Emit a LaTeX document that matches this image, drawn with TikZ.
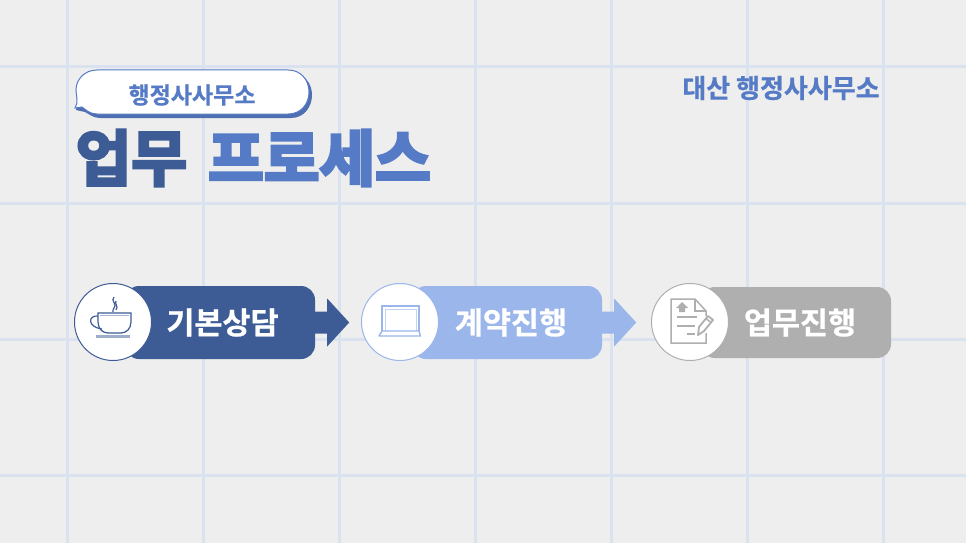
\documentclass[tikz,border=0pt]{standalone}
\usepackage{fontspec}
\usetikzlibrary{calc}
\newfontfamily\krstrong{Noto Sans CJK KR Bold}[FakeBold=0.8]
\newfontfamily\krheavy{Noto Sans CJK KR Bold}[FakeBold=5]
\definecolor{paper}{HTML}{EEEEEE}
\definecolor{gridblue}{HTML}{DAE2EF}
\definecolor{navy}{HTML}{3D5C96}
\definecolor{midblue}{HTML}{567BC6}
\definecolor{softblue}{HTML}{9BB6EA}
\definecolor{softgrey}{HTML}{AFAFAF}
\tikzset{
	gridline/.style={line width=3pt, color=gridblue},
	pill/.style={fill=#1, rounded corners=14pt, text=white, font=\krstrong\fontsize{30.5}{30}\selectfont},
	badge/.style={circle, draw=#1, line width=1pt, fill=white, minimum size=77pt, inner sep=0pt},
	heading/.style={font=\krheavy\fontsize{60.5}{60}\selectfont, inner sep=0pt}
}
\def\blockarrow[#1](#2){\fill[#1] ($(#2)+(-1,-11)$) -- ++(13,0) -- ++(0,-13) -- ++(22,24) -- ++(-22,24) -- ++(0,-13) -- ++(-13,0) -- cycle;}

\begin{document}
\begin{tikzpicture}[x=1pt, y=-1pt]
	%%%%% BACKGROUND %%%%%
	\fill[paper] (0, 0) rectangle (966, 543);
	\useasboundingbox (0, 0) rectangle (966, 543);
	\foreach \gx in {67, 203, 339, 475, 611, 747, 883}
		\draw[gridline] (\gx, 0) -- (\gx, 543);
	\foreach \gy in {67, 203, 339, 475}
		\draw[gridline] (0, \gy) -- (966, \gy);

	%%%%% TITLE %%%%%
	\fill[midblue!90!black] (100, 73) -- (291, 73) .. controls (304, 73) and (312, 83) .. (312, 95) .. controls (312, 107) and (304, 118) .. (291, 118) -- (100, 118) .. controls (93, 118) and (89, 114) .. (85, 112) -- (76, 110) -- (80, 90) -- cycle;
	\draw[midblue, line width=1pt, fill=white] (97, 70) -- (288, 70) .. controls (301, 70) and (309, 80) .. (309, 92) .. controls (309, 104) and (301, 114) .. (288, 114) -- (97, 114) .. controls (90, 114) and (86, 110) .. (82, 107) -- (75, 108) .. controls (79, 102) and (76, 96) .. (76, 90) .. controls (76, 79) and (85, 70) .. (97, 70) -- cycle;
	\node[text=midblue, font=\krstrong\fontsize{23}{23}\selectfont, inner sep=0pt] (badgetext) at (192, 95) {행정사사무소};
	\node[text=midblue, font=\krstrong\fontsize{26}{26}\selectfont, inner sep=0pt] (office) at (781, 88) {대산 행정사사무소};
	\node[heading, text=navy] (titleleft) at (131.5, 158) {업무};
	\node[heading, text=midblue] (titleright) at (319.5, 158) {프로세스};

	%%%%% STEPS %%%%%
	\node[pill=navy, minimum width=190pt, minimum height=73pt, inner sep=0pt] (pilla) at (220, 322.5) {\hspace{5pt}기본상담};
	\node[pill=softblue, minimum width=190pt, minimum height=73pt, inner sep=0pt] (pillb) at (507, 322.5) {\hspace{8pt}계약진행};
	\node[pill=softgrey, minimum width=190pt, minimum height=71pt, inner sep=0pt] (pillc) at (796, 322.5) {\hspace{8pt}업무진행};

	\blockarrow[navy](pilla.east)
	\blockarrow[softblue](pillb.east)

	\node[badge=navy] (cupbadge) at (113, 322) {};
	\node[badge=softblue] (laptopbadge) at (400, 322) {};
	\node[badge=softgrey] (docbadge) at (690, 322) {};

	%%%%% CUP %%%%%
	\begin{scope}[shift={(cupbadge.center)}, navy, line width=1.2pt]
		\draw (-15, -9) -- (18, -9) -- (18, 0) .. controls (18, 7) and (13, 11) .. (8, 11) -- (-5, 11) .. controls (-10, 11) and (-15, 7) .. (-15, 0) -- cycle;
		\draw[navy!45, line width=1pt] (-13, -6.5) -- (16, -6.5);
		\draw (-15, -6) .. controls (-25, -7) and (-26, 5) .. (-11, 7);
		\fill[navy!50] (-17, 13) rectangle (17, 16);
		\draw (1, -25) .. controls (-3, -21) and (5, -18) .. (1, -14) .. controls (0, -13) and (0, -12) .. (0, -10);
		\draw (3, -21) .. controls (1, -18) and (6, -16) .. (3, -12);
	\end{scope}

	%%%%% LAPTOP %%%%%
	\begin{scope}[shift={(laptopbadge.center)}, softblue, line width=1.4pt]
		\draw (-18, 9) -- (-18, -16) -- (19, -16) -- (19, 9);
		\draw[softblue!60, line width=1pt] (-15, 9) -- (-15, -13) -- (16, -13) -- (16, 9);
		\draw[line join=round] (-18, 9) -- (19, 9) -- (20.5, 14) -- (-21, 14) -- cycle;
	\end{scope}

	%%%%% DOCUMENT %%%%%
	\begin{scope}[shift={(docbadge.center)}, softgrey, line width=1.5pt]
		\draw (16, -6) -- (16, -11) -- (5, -23) -- (-19, -23) -- (-19, 21) -- (16, 21) -- (16, 11);
		\draw (5, -23) -- (5, -11) -- (16, -11);
		\fill (-14, -14) -- (-8, -20) -- (-2, -14) -- (-5, -14) -- (-5, -10) -- (-11, -10) -- (-11, -14) -- cycle;
		\draw (-13, -5) -- (7, -5);
		\draw (-13, 4) -- (5, 4);
		\draw (-3, 12) -- (5, 12);
		\draw[line join=round, line width=1.8pt] (8, 13) -- (9, 5) -- (18, -6) -- (23, -2) -- (14, 9) -- cycle;
		\draw (16, -3.5) -- (21, 0.5);
	\end{scope}
\end{tikzpicture}
\end{document}
